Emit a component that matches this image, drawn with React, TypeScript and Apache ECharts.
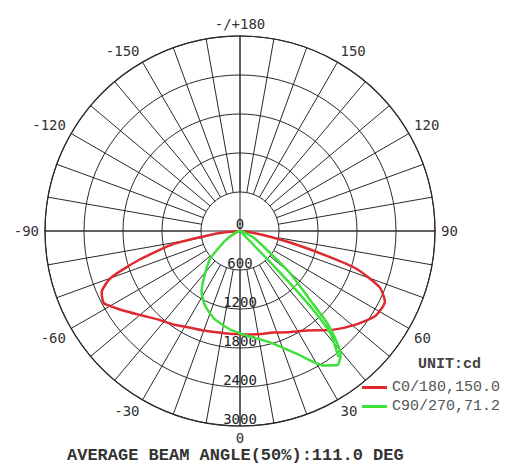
import React, { useEffect, useRef } from 'react';
import * as echarts from 'echarts';

// Gamma angles (deg, 0 = down, + = right) and intensities (cd)
const RED_NAME = 'C0/180,150.0';
const RED_GAMMA = [-90, -85, -82, -79, -74, -70, -66, -62, -56, -50, -43, -35, -27, -20, -13, -6, 0, 6, 12, 18, 25, 34, 43, 51, 58, 64, 68, 72, 74, 77, 80, 85, 90];
const RED_CD = [0, 230, 500, 1040, 1620, 2120, 2330, 2370, 2180, 2010, 1860, 1760, 1670, 1630, 1600, 1590, 1587, 1600, 1620, 1643, 1720, 1846, 2080, 2290, 2460, 2480, 2320, 1890, 1400, 790, 360, 100, 0];

const GREEN_NAME = 'C90/270,71.2';
const GREEN_GAMMA = [-90, -70, -60, -55, -47, -37, -32, -25, -16, -6, 4, 15, 25, 32, 36, 39, 41, 43.5, 45.5, 50, 54, 64, 75, 90, 44, 43, 41.5, 38];
const GREEN_CD = [0, 60, 200, 320, 630, 930, 1115, 1270, 1410, 1520, 1615, 1775, 2090, 2440, 2550, 2460, 2270, 1940, 1500, 1000, 570, 230, 60, 0, 820, 1580, 2090, 2460];

const ANGLE_TICKS = [0, 30, 60, 90, 120, 150, 180, 210, 240, 270, 300, 330];
const ANGLE_TEXT = ['0', '30', '60', '90', '120', '150', '-/+180', '-150', '-120', '-90', '-60', '-30'];
const RADIUS_MAX = 3000;
const RADIUS_STEP = 600;

const TITLE = 'AVERAGE BEAM ANGLE(50%):111.0 DEG';
const UNIT = 'UNIT:cd';

const CX = 240;
const CY = 231;
const R = 195;
const R_INNER = 39;

const toPolar = (g: number[], v: number[]) =>
  g.map((a, i) => [v[i], a < 0 ? a + 360 : a]);

export default function App() {
  const ref = useRef<HTMLDivElement>(null);
  useEffect(() => {
    if (!ref.current) return;
    const chart = echarts.init(ref.current, undefined, { renderer: 'svg' });
    const grid = '#2a2a2a';
    chart.setOption({
      animation: false,
      backgroundColor: '#ffffff',
      title: [
        {
          text: TITLE,
          left: 67,
          top: 449,
          padding: 0,
          textStyle: { fontFamily: 'Liberation Mono', fontSize: 17, lineHeight: 12, fontWeight: 'bold', color: '#333' },
        },
        {
          text: UNIT,
          left: 418,
          top: 357,
          padding: 0,
          textStyle: { fontFamily: 'Liberation Mono', fontSize: 15, fontWeight: 'bold', color: '#444' },
        },
      ],
      legend: {
        orient: 'vertical',
        left: 362,
        top: 380,
        padding: 0,
        itemWidth: 25,
        itemHeight: 3,
        itemGap: 4,
        icon: 'rect',
        data: [RED_NAME, GREEN_NAME],
        textStyle: { fontFamily: 'Liberation Mono', fontSize: 15, color: '#555' },
      },
      polar: [
        { center: [CX, CY], radius: R },
        { center: [CX, CY], radius: [R_INNER, R] },
      ],
      angleAxis: [
        {
          polarIndex: 0,
          type: 'value',
          min: 0,
          max: 360,
          interval: 90,
          startAngle: 270,
          clockwise: false,
          axisLine: { lineStyle: { color: grid, width: 1.2 } },
          axisTick: { show: false },
          axisLabel: { show: false },
          splitLine: { show: true, lineStyle: { color: grid, width: 1 } },
        },
        {
          polarIndex: 1,
          type: 'value',
          min: 0,
          max: 360,
          interval: 10,
          startAngle: 270,
          clockwise: false,
          axisLine: { show: false },
          axisTick: { show: false },
          axisLabel: {
            margin: 6,
            fontFamily: 'DejaVu Sans Mono',
            fontSize: 14,
            lineHeight: 12,
            color: '#333',
            formatter: (v: number) => {
              const i = ANGLE_TICKS.indexOf(v);
              return i >= 0 ? ANGLE_TEXT[i] : '';
            },
          },
          splitLine: { show: true, lineStyle: { color: grid, width: 1 } },
        },
      ],
      radiusAxis: [
        {
          polarIndex: 0,
          type: 'value',
          min: 0,
          max: RADIUS_MAX,
          interval: RADIUS_STEP,
          axisLine: { show: false },
          axisTick: { show: false },
          splitLine: { show: true, lineStyle: { color: grid, width: 1 } },
          axisLabel: {
            margin: 0,
            align: 'center',
            verticalAlign: 'bottom',
            fontFamily: 'DejaVu Sans Mono',
            fontSize: 14,
            color: '#222',
            formatter: (v: number) => String(v),
          },
        },
        { polarIndex: 1, type: 'value', min: 0, max: 1, show: false },
      ],
      series: [
        {
          name: RED_NAME,
          type: 'line',
          coordinateSystem: 'polar',
          polarIndex: 0,
          symbol: 'none',
          smooth: 0.2,
          color: '#de2a2f',
          lineStyle: { color: '#de2a2f', width: 2.5 },
          data: toPolar(RED_GAMMA, RED_CD),
        },
        {
          name: GREEN_NAME,
          type: 'line',
          coordinateSystem: 'polar',
          polarIndex: 0,
          symbol: 'none',
          smooth: 0.2,
          color: '#3fe03a',
          lineStyle: { color: '#3fe03a', width: 2.5 },
          data: toPolar(GREEN_GAMMA, GREEN_CD),
        },
      ],
    });
    return () => chart.dispose();
  }, []);
  return (
    <div
      ref={ref}
      style={{ position: 'absolute', left: 0, top: 0, width: 510, height: 472 }}
    />
  );
}
